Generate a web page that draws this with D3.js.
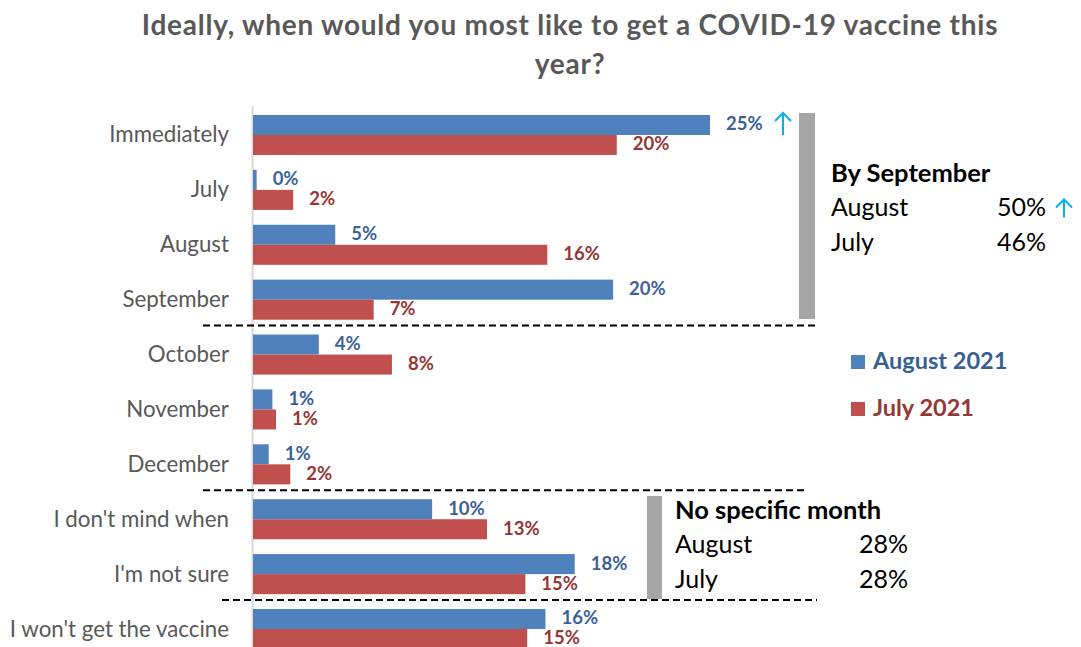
<!DOCTYPE html>
<html>
<head>
<meta charset="utf-8">
<script src="https://cdn.jsdelivr.net/npm/d3@7"></script>
<style>
  html, body { margin: 0; padding: 0; background: #fff; }
  svg { display: block; font-family: Lato, "Noto Sans", sans-serif; }
</style>
</head>
<body>
<div id="chart"></div>
<script>
'use strict';

// ─── Data ─────────────────────────────────────────────────────────────────────
const categories = [
  'Immediately', 'July', 'August', 'September', 'October',
  'November', 'December', "I don't mind when", "I'm not sure", "I won't get the vaccine",
];
const seriesNames = ['August 2021', 'July 2021'];
const aug2021  = [25.0, 0.2, 4.5, 19.7, 3.6, 1.06, 0.86, 9.8, 17.6, 16.0];
const july2021 = [19.9, 2.2, 16.1, 6.6, 7.6, 1.26, 2.04, 12.8, 14.9, 15.0];

// separators drawn below these categories
const dividers = [
  { after: 'September', x0: 203, x1: 815 },
  { after: 'December',  x0: 203, x1: 808 },
  { after: "I'm not sure", x0: 222, x1: 817 },
];

const summaryTop = { title: 'By September', rows: [['August', '50%', true], ['July', '46%', false]] };
const summaryBottom = { title: 'No specific month', rows: [['August', '28%', false], ['July', '28%', false]] };

const COLORS = { bar: ['#4F81BD', '#C0504D'], label: ['#3A6299', '#953735'] };
const ARROW = '#00B0F0';

// ─── Layout ───────────────────────────────────────────────────────────────────
const W = 1081, H = 647;
const X0 = 253;

const svg = d3.select('#chart').append('svg')
  .attr('width', W).attr('height', H);

const x = d3.scaleLinear().domain([0, 25]).range([X0, 710]);

const y = d3.scaleBand()
  .domain(categories)
  .range([107.55, 107.55 + 54.89 * categories.length])
  .paddingInner(0.27).paddingOuter(0.135);

const ySub = d3.scaleBand().domain(seriesNames).range([0, y.bandwidth()]);

// ─── Title ────────────────────────────────────────────────────────────────────
const title = svg.append('text')
  .attr('text-anchor', 'middle')
  .attr('font-size', 28).attr('letter-spacing', 0.75)
  .attr('font-weight', 700).attr('fill', '#595959');
title.append('tspan').attr('x', 570).attr('y', 35)
  .text('Ideally, when would you most like to get a COVID-19 vaccine this');
title.append('tspan').attr('x', 570).attr('y', 74).text('year?');

// ─── Axis line ────────────────────────────────────────────────────────────────
svg.append('line')
  .attr('x1', X0 - 0.5).attr('x2', X0 - 0.5)
  .attr('y1', 106).attr('y2', H)
  .attr('stroke', '#d9d9d9').attr('stroke-width', 2);

// ─── Category labels ──────────────────────────────────────────────────────────
svg.append('g').selectAll('text')
  .data(categories).join('text')
  .attr('x', 229)
  .attr('y', d => y(d) + y.bandwidth() / 2 + 7.5)
  .attr('text-anchor', 'end')
  .attr('font-size', 22.3).attr('fill', '#595959')
  .text(d => d);

// ─── Bars ─────────────────────────────────────────────────────────────────────
const seriesData = [aug2021, july2021];
const fmt = v => `${Math.round(v)}%`;
const LABEL_LIFT = 4.6;

seriesData.forEach((vals, si) => {
  const g = svg.append('g');
  const rows = categories.map((c, i) => ({ c, v: vals[i] }));
  g.selectAll('rect').data(rows).join('rect')
    .attr('x', X0)
    .attr('y', d => y(d.c) + ySub(seriesNames[si]))
    .attr('width', d => x(d.v) - X0)
    .attr('height', ySub.bandwidth())
    .attr('fill', COLORS.bar[si]);
  g.selectAll('text').data(rows).join('text')
    .attr('x', d => x(d.v) + 16)
    .attr('y', d => y(d.c) + ySub(seriesNames[si]) + ySub.bandwidth() - LABEL_LIFT)
    .attr('font-size', 18.5).attr('font-weight', 700)
    .attr('fill', COLORS.label[si])
    .text(d => fmt(d.v));
});

// ─── Up arrow helper ──────────────────────────────────────────────────────────
function upArrow(cx, top, bottom) {
  const a = svg.append('g').attr('stroke', ARROW).attr('stroke-width', 2).attr('fill', 'none');
  a.append('line').attr('x1', cx).attr('x2', cx).attr('y1', top + 1).attr('y2', bottom);
  a.append('polyline')
    .attr('points', `${cx - 8},${top + 9} ${cx},${top + 1} ${cx + 8},${top + 9}`);
}
upArrow(783, 112, 135);

// ─── Dashed dividers ──────────────────────────────────────────────────────────
dividers.forEach(d => {
  const i = categories.indexOf(d.after);
  const yy = y(categories[i]) + y.bandwidth() + (y.step() - y.bandwidth()) / 2 - 1.5;
  svg.append('line')
    .attr('x1', d.x0).attr('x2', d.x1).attr('y1', yy).attr('y2', yy)
    .attr('stroke', '#000').attr('stroke-width', 2)
    .attr('stroke-dasharray', '7,4');
});

// ─── Gray brackets ────────────────────────────────────────────────────────────
svg.append('rect').attr('x', 799).attr('y', 113).attr('width', 16).attr('height', 206).attr('fill', '#A6A6A6');
svg.append('rect').attr('x', 647).attr('y', 496).attr('width', 15).attr('height', 103).attr('fill', '#A6A6A6');

// ─── Summary blocks ───────────────────────────────────────────────────────────
function summary(block, x0, xr, baseY, arrowX) {
  svg.append('text').attr('x', x0).attr('y', baseY)
    .attr('font-size', 25.5).attr('font-weight', 700).attr('fill', '#000')
    .text(block.title);
  block.rows.forEach((r, i) => {
    const by = baseY + 33.5 + i * 35;
    svg.append('text').attr('x', x0).attr('y', by)
      .attr('font-size', 25).attr('fill', '#000').text(r[0]);
    svg.append('text').attr('x', xr).attr('y', by)
      .attr('text-anchor', 'end')
      .attr('font-size', 25).attr('fill', '#000').text(r[1]);
    if (r[2]) upArrow(arrowX, by - 17, by + 2);
  });
}
summary(summaryTop, 831, 1046, 182, 1064);
summary(summaryBottom, 675, 908, 519, 0);

// ─── Legend ───────────────────────────────────────────────────────────────────
const legend = svg.append('g').attr('transform', 'translate(851, 355)');
seriesNames.forEach((s, i) => {
  const lg = legend.append('g').attr('transform', `translate(0, ${i * 47})`);
  lg.append('rect').attr('width', 14).attr('height', 14).attr('fill', COLORS.bar[i]);
  lg.append('text').attr('x', 22).attr('y', 14)
    .attr('font-size', 23.5).attr('font-weight', 700)
    .attr('fill', i === 0 ? '#376092' : '#953735')
    .text(s);
});
</script>
</body>
</html>
